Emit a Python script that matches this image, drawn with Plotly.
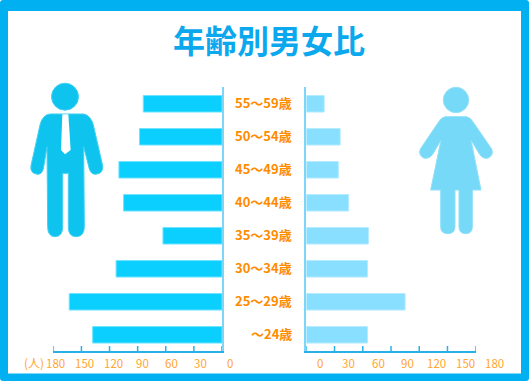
import plotly.graph_objects as go

categories = ["55～59歳", "50～54歳", "45～49歳", "40～44歳", "35～39歳", "30～34歳", "25～29歳", "～24歳"]
male = [84, 88, 110, 105, 63, 113, 163, 138]
female = [19, 36, 34, 45, 66, 65, 105, 65]
tick_labels = ["0", "30", "60", "90", "120", "150", "180"]
tick_vals = [0, 30, 60, 90, 120, 150, 180]

W, H = 529, 381
FONT = "Noto Sans CJK JP"
px = lambda v: v / W
py = lambda v: 1 - v / H


def scaled(path, sx, ox, oy=0):
    """Convert a path in crop coordinates to paper coordinates."""
    out, is_x = [], True
    for tok in path.split():
        if tok.isalpha():
            out.append(tok)
            is_x = True
        else:
            v = float(tok)
            if is_x:
                out.append(f"{px(ox + v / sx):.5f}")
            else:
                out.append(f"{py(oy + v / sx):.5f}")
            is_x = not is_x
    return " ".join(out)


fig = go.Figure()
fig.add_bar(y=categories, x=male, orientation="h", xaxis="x", yaxis="y",
            marker=dict(color="#0BCFFF", line=dict(color="#6FE3FF", width=1)), showlegend=False)
fig.add_bar(y=categories, x=female, orientation="h", xaxis="x2", yaxis="y2",
            marker=dict(color="#88DFFF", line=dict(color="#B5ECFF", width=1)), showlegend=False)

dom_y = [py(351.3), py(87.3)]
x_common = dict(ticks="", showline=True, linecolor="#29B0E8", linewidth=1.5, showgrid=False,
                zeroline=False, showticklabels=False, fixedrange=True)
y_common = dict(type="category", categoryorder="array", categoryarray=categories,
                range=[7.5, -0.5], domain=dom_y, showline=True, linecolor="#7FD5F8", linewidth=1.5,
                showgrid=False, zeroline=False, showticklabels=False, ticks="", fixedrange=True)

annotations = [dict(text="<b>年齢別男女比</b>", x=px(268.5), y=py(39.5), xref="paper", yref="paper",
                    showarrow=False, font=dict(family=FONT, size=32, color="#0BA8EE"),
                    xanchor="center", yanchor="middle")]
for c in categories:
    annotations.append(dict(text=f"<b>{c}</b>", x=px(294), y=c, xref="paper", yref="y", showarrow=False,
                            xanchor="right", yanchor="middle", yshift=1,
                            font=dict(family=FONT, size=13, color="#FF8C00")))
tick_font = dict(family=FONT, size=11.5, color="#FFA530")
for v, t in zip(tick_vals, tick_labels):
    annotations.append(dict(text=t, x=px(229.8 - v * 174.5 / 180), y=py(362.5), xref="paper", yref="paper",
                            showarrow=False, xanchor="center", yanchor="middle", font=tick_font))
    annotations.append(dict(text=t, x=px(319.8 + v * 174.8 / 180), y=py(362.5), xref="paper", yref="paper",
                            showarrow=False, xanchor="center", yanchor="middle", font=tick_font))
annotations.append(dict(text="(人)", x=px(33.5), y=py(362), xref="paper", yref="paper", showarrow=False,
                        xanchor="center", yanchor="middle", font=dict(family=FONT, size=12, color="#FFA530")))

male_body = ("M 75 117 L 175 117 Q 197 120 205 150 L 233 272 Q 236 295 212 298 Q 198 298 193 282 "
             "L 176 215 L 178 455 Q 178 485 153 485 Q 130 485 130 455 L 130 295 L 113 295 L 113 455 "
             "Q 113 485 90 485 Q 68 485 68 455 L 66 215 L 55 282 Q 50 298 38 298 Q 14 295 18 272 "
             "L 45 150 Q 52 120 75 117 Z")
tie = "M 112 118 L 130 118 L 137 225 L 120 238 L 108 225 Z"
female_body = ("M 105 125 L 170 125 Q 183 128 192 145 L 245 222 Q 252 240 235 249 Q 218 254 207 235 "
               "L 183 195 L 213 345 L 187 345 L 187 455 Q 187 476 167 476 Q 147 476 147 455 L 147 345 "
               "L 135 345 L 135 455 Q 135 476 113 476 Q 92 476 92 455 L 92 345 L 62 345 L 93 195 "
               "L 70 235 Q 58 254 41 249 Q 24 240 31 222 L 83 145 Q 92 128 105 125 Z")
frame_outer = "M 3 0 L 526 0 Q 529 0 529 3 L 529 378 Q 529 381 526 381 L 3 381 Q 0 381 0 378 L 0 3 Q 0 0 3 0 Z"
MALE_C, FEMALE_C = "#0EC4EE", "#76D9F7"
base = dict(xref="paper", yref="paper", layer="below", line=dict(width=0))
soft_m = {**base, "line": dict(width=1, color="#40D0F2")}
soft_f = {**base, "line": dict(width=1, color="#90E0F9")}
shapes = [
    dict(type="path", path=scaled(frame_outer, 1, 0), fillcolor="#00B0F0", **base),
    dict(type="rect", x0=px(8), x1=px(521), y0=py(373.5), y1=py(11), fillcolor="#FFFFFF", **base),
    dict(type="circle", x0=px(51.5), x1=px(78.5), y0=py(110.2), y1=py(83.2), fillcolor=MALE_C, **soft_m),
    dict(type="path", path=scaled(male_body, 3, 25, 75), fillcolor=MALE_C, **soft_m),
    dict(type="path", path=scaled(tie, 3, 25, 75), fillcolor="#FFFFFF", **base),
    dict(type="circle", x0=px(410 + 100 / 3), x1=px(410 + 176 / 3), y0=py(75 + 113 / 3), y1=py(75 + 37 / 3),
         fillcolor=FEMALE_C, **soft_f),
    dict(type="path", path=scaled(female_body, 3, 410, 75), fillcolor=FEMALE_C, **soft_f),
]
# Axis ticks point inwards and include both end values, placed through each axis's own scale.
for axis in ("x", "x2"):
    for v in tick_vals:
        shapes.append(dict(type="line", xref=axis, yref="paper", x0=v, x1=v, y0=py(351.5), y1=py(346),
                           line=dict(color="#29B0E8", width=1.5)))

fig.update_layout(
    width=W, height=H, margin=dict(l=0, r=0, t=0, b=0), autosize=False,
    paper_bgcolor="#FFFFFF", plot_bgcolor="rgba(0,0,0,0)", bargap=0.5, barmode="overlay",
    xaxis=dict(domain=[px(53.3), px(222)], range=[180, 0], anchor="y", **x_common),
    xaxis2=dict(domain=[px(306.3), px(475.7)], range=[0, 180], anchor="y2", **x_common),
    yaxis=dict(anchor="x", side="right", **y_common),
    yaxis2=dict(anchor="x2", side="left", **y_common),
    annotations=annotations, shapes=shapes,
)
fig.write_html("out.html", config=dict(displayModeBar=False),
               post_script="document.body.style.margin='0';document.body.style.overflow='hidden';")
